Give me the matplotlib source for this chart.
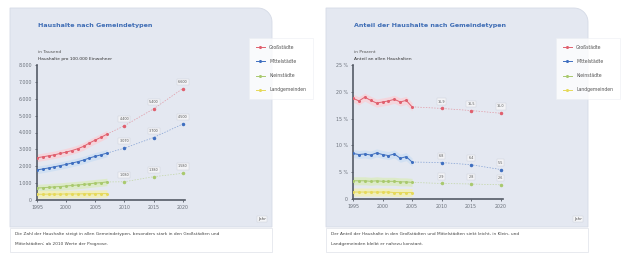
import matplotlib
matplotlib.use("Agg")
import matplotlib.pyplot as plt
import numpy as np
from matplotlib.path import Path
from matplotlib.patches import PathPatch, Rectangle

plt.rcParams['font.family'] = ['DejaVu Sans']

# ---------------- data ----------------
years_tick = [1995, 2000, 2005, 2010, 2015, 2020]
forecast_years = [2010, 2015, 2020]

series_names = ["Großstädte", "Mittelstädte", "Kleinstädte", "Landgemeinden"]
series_colors = ["#e0606e", "#3f6fc0", "#a9c96e", "#e6d95a"]
band_colors = ["#f6d3da", "#cfe0f3", "#dcebc4", "#f2efb8"]

# left chart (thousands)
left_years = list(range(1995, 2008))
left_red = [2.50, 2.56, 2.62, 2.68, 2.76, 2.84, 2.93, 3.04, 3.18, 3.38, 3.55, 3.72, 3.90]
left_blue = [1.78, 1.84, 1.90, 1.97, 2.04, 2.11, 2.19, 2.27, 2.37, 2.49, 2.59, 2.68, 2.78]
left_green = [0.71, 0.73, 0.75, 0.78, 0.80, 0.83, 0.86, 0.89, 0.92, 0.96, 1.00, 1.03, 1.07]
left_yellow = [0.34, 0.34, 0.35, 0.35, 0.35, 0.36, 0.36, 0.36, 0.37, 0.37, 0.37, 0.38, 0.38]
left_red_fc = [4.40, 5.40, 6.60]
left_blue_fc = [3.07, 3.70, 4.50]
left_green_fc = [1.08, 1.38, 1.58]
left_yticks = [0, 1, 2, 3, 4, 5, 6, 7, 8]
left_yticklabels = ["0", "1.000", "2.000", "3.000", "4.000", "5.000", "6.000", "7.000", "8.000"]

# right chart (percent)
right_years = list(range(1995, 2006))
right_red = [18.8, 18.3, 19.0, 18.4, 17.9, 18.1, 18.3, 18.6, 18.1, 18.4, 17.2]
right_blue = [8.5, 8.3, 8.4, 8.2, 8.6, 8.3, 8.1, 8.4, 7.6, 7.9, 6.9]
right_green = [3.4, 3.4, 3.4, 3.3, 3.4, 3.3, 3.3, 3.3, 3.2, 3.2, 3.1]
right_yellow = [1.3, 1.3, 1.3, 1.3, 1.3, 1.3, 1.3, 1.2, 1.2, 1.2, 1.2]
right_red_fc = [16.9, 16.5, 16.0]
right_blue_fc = [6.8, 6.4, 5.5]
right_green_fc = [2.9, 2.8, 2.65]
right_yticks = [0, 5, 10, 15, 20, 25]
right_yticklabels = ["0", "5 %", "10 %", "15 %", "20 %", "25 %"]

titles = ["Haushalte nach Gemeindetypen", "Anteil der Haushalte nach Gemeindetypen"]
subtitles = [("in Tausend", "Haushalte pro 100.000 Einwohner"),
             ("in Prozent", "Anteil an allen Haushalten")]
captions = [("Die Zahl der Haushalte steigt in allen Gemeindetypen, besonders stark in den Großstädten und",
             "Mittelstädten; ab 2010 Werte der Prognose."),
            ("Der Anteil der Haushalte in den Großstädten und Mittelstädten sinkt leicht, in Klein- und",
             "Landgemeinden bleibt er nahezu konstant.")]

# ---------------- figure ----------------
W, H = 627, 254
fig = plt.figure(figsize=(W / 100, H / 100), dpi=100)
fig.patch.set_facecolor("white")


def fx(x):
    return x / W


def fy(y):
    return 1 - y / H


def panel(x0, x1, y0, y1, r=14):
    # rectangle with rounded top-right corner (pixel coords)
    th = np.linspace(np.pi / 2, 0, 12)
    cx, cy = x1 - r, y0 + r
    arc = [(cx + r * np.cos(t), cy - r * np.sin(t)) for t in th]
    pts = [(x0, y1), (x0, y0)] + arc + [(x1, y1), (x0, y1)]
    pts = [(fx(a), fy(b)) for a, b in pts]
    codes = [Path.MOVETO] + [Path.LINETO] * (len(pts) - 2) + [Path.CLOSEPOLY]
    p = PathPatch(Path(pts, codes), transform=fig.transFigure,
                  facecolor="#e4e8f1", edgecolor="#d5dae6", lw=0.6, zorder=-2)
    fig.patches.append(p)


panels = [(10, 272), (326, 588)]
for (x0, x1) in panels:
    panel(x0, x1, 8, 227)
    fig.patches.append(Rectangle((fx(x0), fy(252)), fx(x1 - x0), (252 - 228) / H,
                                 transform=fig.transFigure, facecolor="white",
                                 edgecolor="#e4e6ec", lw=0.6, zorder=-2))

axes_px = [(37, 185, 65, 200), (353, 503, 65, 199)]
datasets = [
    (left_years, [left_red, left_blue, left_green, left_yellow],
     [left_red_fc, left_blue_fc, left_green_fc], (0, 8), left_yticks, left_yticklabels, 0.22),
    (right_years, [right_red, right_blue, right_green, right_yellow],
     [right_red_fc, right_blue_fc, right_green_fc], (0, 25), right_yticks, right_yticklabels, 0.75),
]
legend_right_px = [313, 620]

for i, ((x0, x1, y0, y1), ds) in enumerate(zip(axes_px, datasets)):
    yrs, dense, fc, ylim, yt, ytl, bw = ds
    ax = fig.add_axes([fx(x0), fy(y1), fx(x1 - x0), (y1 - y0) / H])
    ax.set_facecolor("none")
    ax.set_zorder(1)
    for k, vals in enumerate(dense):
        v = np.array(vals)
        ax.fill_between(yrs, v - bw, v + bw, color=band_colors[k], lw=0, alpha=0.9, zorder=1)
        ax.plot(yrs, vals, color=series_colors[k], lw=0.7, marker="o", ms=1.2,
                label=series_names[k], zorder=3)
    for k, vals in enumerate(fc):
        xs = [yrs[-1]] + forecast_years
        ys = [dense[k][-1]] + vals
        ax.plot(xs, ys, color=series_colors[k], lw=0.5, ls=(0, (2, 2)), alpha=0.6, zorder=2)
        ax.plot(forecast_years, vals, color=series_colors[k], lw=0, marker="o", ms=1.5, zorder=3)
        for xv, yv in zip(forecast_years, vals):
            if i == 0:
                lab = f"{yv * 1000:,.0f}".replace(",", ".")
            else:
                lab = f"{yv:.1f}".replace(".", ",")
            ax.annotate(lab, (xv, yv), xytext=(0, 3.5), textcoords="offset points",
                        ha="center", va="bottom", fontsize=2.4, color="#555555",
                        bbox=dict(boxstyle="square,pad=0.35", fc="#f2f3f6", ec="#c8ccd6", lw=0.3),
                        zorder=4)
    ax.set_xlim(1995, 2020.4)
    ax.set_ylim(*ylim)
    ax.set_xticks(years_tick)
    ax.set_xticklabels([str(y) for y in years_tick])
    ax.set_yticks(yt)
    ax.set_yticklabels(ytl)
    for s in ["top", "right"]:
        ax.spines[s].set_visible(False)
    for s in ["left", "bottom"]:
        ax.spines[s].set_color("#555b66")
        ax.spines[s].set_linewidth(1.2)
    ax.tick_params(labelsize=3.4, colors="#555b66", length=1.5, width=0.6, pad=2)
    for lab in ax.get_xticklabels() + ax.get_yticklabels():
        lab.set_color("#6a707a")

    px0 = panels[i][0]
    fig.text(fx(px0 + 28), fy(26), titles[i], fontsize=4.6, color="#3f6db5",
             ha="left", va="center", weight="bold")
    fig.text(fx(px0 + 28), fy(52), subtitles[i][0], fontsize=3.2, color="#555555",
             ha="left", va="center")
    fig.text(fx(px0 + 28), fy(59), subtitles[i][1], fontsize=3.2, color="#333333",
             ha="left", va="center")
    fig.text(fx(panels[i][1] - 6), fy(219), "Jahr", fontsize=3.0, color="#555555",
             ha="right", va="center",
             bbox=dict(boxstyle="square,pad=0.35", fc="#f4f5f8", ec="#c8ccd6", lw=0.3))
    fig.text(fx(px0 + 5), fy(234), captions[i][0], fontsize=3.1, color="#444444",
             ha="left", va="center")
    fig.text(fx(px0 + 5), fy(244), captions[i][1], fontsize=3.1, color="#444444",
             ha="left", va="center")

    handles, labels = ax.get_legend_handles_labels()
    leg = fig.legend(handles, labels, loc="upper right",
                     bbox_to_anchor=(fx(legend_right_px[i]), fy(38)), fontsize=3.3,
                     frameon=True, fancybox=False, labelspacing=2.0,
                     handlelength=2.0, borderpad=1.5, handletextpad=0.9,
                     borderaxespad=0)
    leg.set_zorder(5)
    leg.get_frame().set_facecolor("white")
    leg.get_frame().set_edgecolor("#eceef3")
    leg.get_frame().set_linewidth(0.5)
    for t in leg.get_texts():
        t.set_color("#555555")

fig.savefig("out.png", dpi=100, facecolor="white")
